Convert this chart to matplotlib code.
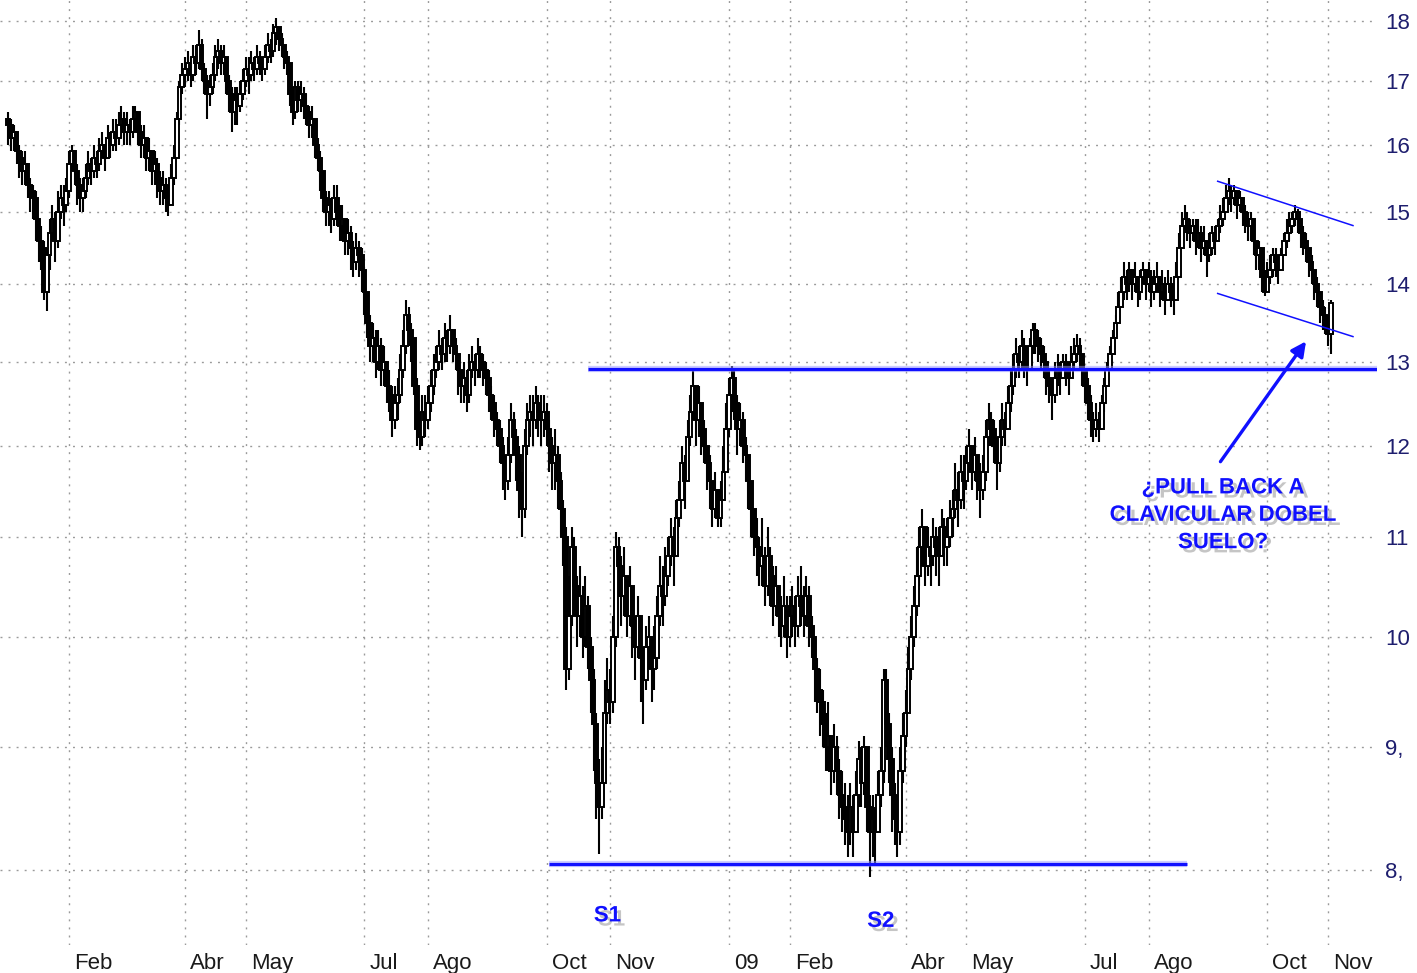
import numpy as np
import pandas as pd
import matplotlib
matplotlib.use("Agg")
import matplotlib.pyplot as plt
import matplotlib.patheffects as pe
from matplotlib.ticker import FixedLocator, FixedFormatter, NullLocator
from matplotlib.transforms import ScaledTranslation

# ---------------- data (daily) ----------------
start_date = "2008-01-02"
first_open = 16.4

close = [
    16.3,16.1,16.2,15.9,15.8,15.6,15.7,15.4,15.3,15.2,14.9,14.6,14.5,13.9,14.4,14.7,14.9,14.6,15.0,15.2,15.1,15.3,
    15.7,15.9,15.6,15.4,15.2,15.3,15.5,15.7,15.6,15.8,15.7,15.9,16.0,15.8,16.1,16.0,16.2,16.1,16.3,16.4,16.2,
    16.3,16.2,16.4,16.5,16.2,16.0,16.1,15.8,15.9,15.6,15.7,15.5,15.3,15.4,15.2,15.1,15.5,15.8,16.4,16.9,17.1,
    17.2,17.3,17.1,17.4,17.3,17.6,17.2,17.0,16.8,16.9,17.1,17.4,17.5,17.3,17.4,17.0,16.8,16.5,16.7,16.6,16.8,17.0,
    17.2,17.1,17.3,17.2,17.4,17.3,17.2,17.4,17.6,17.5,17.8,17.9,17.7,17.6,17.4,17.3,16.8,16.5,16.9,16.7,16.8,16.6,
    16.5,16.3,16.4,16.0,15.8,15.6,15.2,15.0,15.1,14.9,15.2,15.0,14.8,14.9,14.6,14.7,14.5,14.3,14.5,14.4,14.2,
    13.9,13.5,13.2,13.3,13.0,13.2,12.9,13.0,12.7,12.6,12.3,12.5,12.6,12.9,13.2,13.6,13.4,13.3,12.7,12.2,12.1,12.4,12.3,
    12.5,12.7,12.9,13.0,13.2,13.1,13.3,13.2,13.4,13.2,13.1,12.9,12.7,12.8,12.6,12.9,13.0,12.9,13.1,13.0,12.9,
    12.8,12.6,12.5,12.3,12.2,12.0,11.8,11.6,11.9,12.3,12.1,11.9,11.5,11.3,12.0,12.3,12.4,12.3,12.5,12.4,12.3,12.4,
    12.2,12.0,11.8,11.9,11.6,11.3,11.0,9.7,10.2,10.9,10.5,10.2,10.4,10.0,10.3,9.9,9.6,9.2,8.7,8.5,8.7,9.3,9.5,
    9.4,10.0,10.9,10.7,10.4,10.6,10.2,10.5,10.1,9.9,10.2,9.8,9.6,9.9,10.0,9.7,9.8,10.2,10.5,10.4,
    10.6,10.8,11.0,10.8,11.2,11.4,11.8,11.6,12.1,12.4,12.7,12.3,12.5,12.2,12.0,11.8,11.6,11.3,11.5,11.2,11.4,11.7,12.2,
    12.6,12.8,12.5,12.2,12.3,12.0,11.9,11.6,11.3,11.0,10.9,10.7,10.8,10.5,10.8,10.6,10.3,10.5,10.2,10.1,10.3,10.0,
    10.2,10.3,10.1,10.4,10.3,10.2,10.4,10.1,10.0,9.7,9.5,9.4,9.2,9.0,9.1,8.8,9.0,8.8,8.6,8.5,
    8.4,8.3,8.5,8.3,8.6,8.9,8.7,9.0,8.5,8.3,8.4,8.3,8.6,8.8,9.6,9.2,8.9,8.6,8.4,8.3,8.8,9.1,
    9.3,9.7,10.0,10.3,10.6,10.9,11.1,10.7,10.9,10.8,11.0,10.9,10.8,11.1,10.9,11.0,11.2,11.3,11.5,11.4,11.7,11.6,
    11.8,12.0,11.7,11.9,11.6,11.5,11.7,12.1,12.3,12.2,12.0,11.8,12.1,12.3,12.2,12.5,12.7,12.9,13.1,13.0,13.2,
    13.0,12.9,13.2,13.4,13.3,13.2,13.1,13.0,12.8,12.7,12.6,12.8,12.9,12.8,13.0,12.9,12.8,13.0,13.1,13.2,13.1,12.9,
    12.7,12.5,12.3,12.2,12.3,12.2,12.5,12.7,12.9,13.1,13.3,13.5,13.7,13.9,14.1,14.0,14.2,14.0,14.1,13.9,14.1,14.2,14.0,
    14.1,13.9,14.0,14.1,13.9,14.0,13.8,14.0,13.9,13.8,14.1,14.5,14.8,14.9,14.8,14.7,14.8,14.6,14.7,14.5,14.6,
    14.4,14.5,14.7,14.6,14.8,14.9,15.0,15.2,15.3,15.2,15.3,15.1,15.2,15.0,14.9,14.8,14.9,14.6,14.4,14.5,14.1,13.9,
    14.1,14.2,14.4,14.3,14.2,14.4,14.6,14.7,14.8,14.9,15.0,14.9,14.7,14.6,14.5,14.3,14.2,14.0,13.9,13.7,13.6,13.5,
    13.35,13.75,
]

high = [
    16.5,16.4,16.3,16.2,16.0,15.9,15.9,15.7,15.5,15.4,15.3,14.9,14.8,14.6,14.5,14.9,15.1,15.0,15.3,15.4,15.4,15.5,
    15.9,16.0,15.9,15.7,15.5,15.5,15.7,15.9,15.8,16.0,15.9,16.1,16.2,16.0,16.3,16.2,16.4,16.4,16.5,16.6,16.5,
    16.5,16.4,16.6,16.6,16.5,16.3,16.3,16.1,16.1,15.9,15.9,15.8,15.6,15.6,15.5,15.4,15.7,16.0,16.5,17.0,17.3,
    17.4,17.5,17.4,17.6,17.6,17.85,17.7,17.3,17.1,17.1,17.3,17.6,17.7,17.6,17.6,17.4,17.1,16.9,16.9,16.9,17.0,17.2,
    17.4,17.4,17.5,17.4,17.6,17.5,17.4,17.6,17.8,17.7,17.95,18.05,17.9,17.8,17.6,17.5,17.3,16.9,17.0,17.0,17.0,16.9,
    16.8,16.6,16.6,16.4,16.1,15.9,15.6,15.3,15.3,15.2,15.4,15.4,15.1,15.1,14.9,14.9,14.8,14.6,14.7,14.6,14.5,
    14.2,13.9,13.6,13.5,13.4,13.4,13.3,13.2,13.0,12.9,12.7,12.7,12.8,13.1,13.4,13.8,13.7,13.5,13.3,12.8,12.4,12.6,12.6,
    12.7,12.9,13.1,13.2,13.4,13.3,13.5,13.4,13.6,13.4,13.3,13.1,12.9,13.0,12.9,13.1,13.2,13.1,13.3,13.2,13.1,
    13.0,12.9,12.7,12.6,12.4,12.3,12.1,11.9,12.1,12.5,12.4,12.2,12.0,11.7,12.2,12.5,12.6,12.6,12.7,12.6,12.6,12.6,
    12.5,12.3,12.1,12.2,12.0,11.7,11.4,11.1,10.6,11.1,11.0,10.6,10.7,10.5,10.6,10.4,10.0,9.7,9.3,8.9,9.0,9.6,9.8,
    9.7,10.2,11.05,11.0,10.8,10.9,10.6,10.7,10.5,10.2,10.4,10.1,9.9,10.1,10.2,10.0,10.1,10.4,10.8,10.7,
    10.9,11.0,11.2,11.1,11.4,11.6,12.0,11.9,12.3,12.6,12.9,12.7,12.7,12.5,12.3,12.0,11.9,11.6,11.7,11.5,11.6,12.0,12.5,
    12.8,12.95,12.9,12.6,12.5,12.4,12.1,11.9,11.6,11.3,11.2,11.0,11.2,10.9,11.1,10.9,10.7,10.7,10.5,10.4,10.6,10.4,
    10.4,10.5,10.4,10.6,10.7,10.5,10.6,10.5,10.2,10.0,9.8,9.7,9.5,9.3,9.4,9.1,9.2,9.1,8.9,8.8,
    8.7,8.6,8.7,8.6,8.8,9.05,9.0,9.1,9.0,8.6,8.6,8.5,8.8,9.0,9.7,9.7,9.3,9.0,8.7,8.6,9.0,9.3,
    9.5,9.9,10.2,10.5,10.9,11.1,11.3,11.1,11.1,11.0,11.2,11.1,11.1,11.3,11.2,11.2,11.4,11.5,11.8,11.7,11.9,11.9,
    12.0,12.2,12.0,12.1,11.9,11.8,11.9,12.3,12.5,12.4,12.3,12.1,12.3,12.5,12.4,12.7,12.9,13.1,13.3,13.2,13.4,
    13.3,13.2,13.3,13.5,13.5,13.4,13.3,13.2,13.0,12.9,12.8,13.0,13.1,13.0,13.1,13.1,13.0,13.2,13.3,13.35,13.3,13.1,
    12.9,12.8,12.6,12.4,12.5,12.4,12.6,12.8,13.0,13.2,13.4,13.6,13.9,14.1,14.3,14.2,14.3,14.2,14.3,14.1,14.2,14.3,14.2,
    14.3,14.2,14.2,14.3,14.1,14.2,14.1,14.2,14.1,14.0,14.3,14.7,15.0,15.1,15.0,14.9,14.9,14.9,14.9,14.8,14.8,
    14.6,14.7,14.8,14.8,14.9,15.1,15.2,15.4,15.5,15.4,15.4,15.3,15.3,15.2,15.1,15.0,15.0,14.9,14.6,14.6,14.5,14.2,
    14.3,14.4,14.5,14.5,14.4,14.5,14.7,14.9,15.0,15.0,15.1,15.05,14.9,14.8,14.7,14.5,14.4,14.2,14.1,13.9,13.8,13.7,
    13.6,13.8,
]

low = [
    16.0,15.9,15.9,15.7,15.5,15.4,15.4,15.2,15.0,14.9,14.6,14.3,14.2,13.8,13.65,14.2,14.6,14.3,14.5,14.9,14.8,15.0,
    15.2,15.6,15.4,15.1,15.0,15.0,15.2,15.4,15.4,15.5,15.5,15.6,15.8,15.6,15.8,15.8,15.9,15.9,16.0,16.1,16.0,
    16.0,16.0,16.1,16.2,16.0,15.8,15.8,15.6,15.6,15.4,15.4,15.2,15.1,15.1,15.0,14.95,15.1,15.4,15.8,16.3,16.8,
    16.9,17.0,16.9,17.0,17.1,17.2,17.0,16.8,16.4,16.6,16.8,17.0,17.2,17.1,17.1,16.8,16.5,16.2,16.3,16.3,16.5,16.7,
    16.9,16.8,17.0,17.0,17.1,17.1,17.0,17.1,17.3,17.3,17.4,17.6,17.5,17.4,17.2,17.1,16.6,16.3,16.4,16.5,16.5,16.4,
    16.3,16.1,16.1,15.8,15.6,15.3,15.0,14.8,14.8,14.7,14.8,14.8,14.6,14.6,14.4,14.4,14.2,14.1,14.2,14.1,13.9,
    13.6,13.3,13.0,13.0,12.8,12.9,12.7,12.7,12.5,12.4,12.1,12.2,12.3,12.5,12.8,13.1,13.2,13.0,12.6,12.0,11.95,12.0,12.1,
    12.2,12.4,12.6,12.8,12.9,12.9,13.0,13.0,13.1,13.0,12.9,12.6,12.5,12.5,12.4,12.5,12.8,12.7,12.8,12.8,12.7,
    12.6,12.4,12.3,12.1,12.0,11.8,11.5,11.4,11.5,11.8,11.9,11.6,11.2,11.0,11.2,11.9,12.1,12.0,12.2,12.1,12.0,12.1,
    12.0,11.7,11.5,11.5,11.3,11.0,10.7,9.5,9.6,10.1,10.2,9.9,10.0,9.8,9.9,9.7,9.3,8.8,8.4,8.13,8.4,8.7,9.2,
    9.2,9.3,9.9,10.4,10.1,10.2,10.0,10.1,9.8,9.6,9.8,9.4,9.2,9.5,9.7,9.4,9.5,9.7,10.1,10.1,
    10.3,10.5,10.7,10.5,10.8,11.1,11.4,11.3,11.6,12.0,12.3,12.0,12.1,11.9,11.8,11.5,11.3,11.1,11.2,11.1,11.1,11.4,11.7,
    12.1,12.4,12.3,11.9,12.0,11.8,11.6,11.3,11.0,10.8,10.6,10.5,10.5,10.3,10.4,10.3,10.1,10.2,10.0,9.9,10.0,9.8,
    9.9,10.0,9.9,10.0,10.1,10.0,10.1,9.9,9.8,9.4,9.3,9.1,9.0,8.8,8.8,8.6,8.7,8.6,8.4,8.3,
    8.2,8.1,8.2,8.1,8.3,8.5,8.5,8.6,8.3,7.95,8.1,8.05,8.3,8.5,8.7,9.0,8.7,8.3,8.2,8.1,8.2,8.7,
    9.0,9.3,9.6,9.9,10.2,10.5,10.7,10.5,10.6,10.5,10.7,10.6,10.5,10.8,10.7,10.7,10.9,11.0,11.2,11.1,11.3,11.3,
    11.5,11.7,11.5,11.6,11.4,11.2,11.4,11.6,12.0,12.0,11.8,11.5,11.7,12.0,12.0,12.2,12.4,12.6,12.8,12.8,12.9,
    12.8,12.7,12.9,13.1,13.1,13.0,12.9,12.8,12.6,12.5,12.3,12.5,12.7,12.6,12.8,12.7,12.6,12.8,12.9,13.0,12.9,12.7,
    12.5,12.3,12.1,12.05,12.1,12.05,12.2,12.4,12.7,12.9,13.1,13.3,13.5,13.7,13.8,13.8,13.9,13.8,13.9,13.7,13.8,14.0,13.8,
    13.9,13.7,13.8,13.9,13.7,13.8,13.6,13.8,13.7,13.6,13.8,14.1,14.5,14.7,14.6,14.5,14.6,14.4,14.5,14.3,14.4,
    14.1,14.3,14.4,14.4,14.6,14.7,14.8,15.0,15.1,15.0,15.1,14.9,15.0,14.8,14.7,14.6,14.6,14.4,14.2,14.2,13.9,13.85,
    13.9,14.0,14.1,14.1,14.0,14.2,14.4,14.5,14.6,14.7,14.8,14.7,14.5,14.4,14.3,14.1,14.0,13.8,13.7,13.5,13.4,13.35,
    13.2,13.1,
]

tick_months = ["2008-02", "2008-04", "2008-05", "2008-07", "2008-08", "2008-10", "2008-11",
               "2009-01", "2009-02", "2009-04", "2009-05", "2009-07", "2009-08", "2009-10", "2009-11"]
tick_labels = ["Feb", "Abr", "May", "Jul", "Ago", "Oct", "Nov",
               "09", "Feb", "Abr", "May", "Jul", "Ago", "Oct", "Nov"]

y_ticks = [8, 9, 10, 11, 12, 13, 14, 15, 16, 17, 18]
y_tick_labels = ["8,", "9,", "10", "11", "12", "13", "14", "15", "16", "17", "18"]

# annotation levels (price)
neckline_level = 12.91
neckline_start = "2008-10-22"
support_level = 8.05
support_start = "2008-10-02"
support_end = "2009-08-21"
channel_upper = [("2009-09-07", 15.45), ("2009-11-13", 14.81)]
channel_lower = [("2009-09-07", 13.88), ("2009-11-13", 13.32)]
arrow_tail = ("2009-09-08", 11.82)
arrow_head = ("2009-10-21", 13.26)
note_text = "¿PULL BACK A\nCLAVICULAR DOBEL\nSUELO?"
note_pos = ("2009-09-09", 11.23)
s1_pos = ("2008-10-31", 7.66)
s2_pos = ("2009-03-19", 7.62)

# ---------------- build ----------------
assert len(close) == len(high) == len(low)
n = len(close)
dates = pd.bdate_range(start_date, periods=n + 20)
x = np.arange(n)
c = np.array(close)
o = np.concatenate([[first_open], c[:-1]])
h = np.maximum(np.array(high), np.maximum(o, c))
l = np.minimum(np.array(low), np.minimum(o, c))


def xi(d):
    return float(dates.get_indexer([pd.Timestamp(d)], method="nearest")[0])


plt.rcParams["font.family"] = ["Liberation Sans", "DejaVu Sans"]

W, H = 1417, 973
fig = plt.figure(figsize=(W / 100, H / 100), dpi=100)
fig.patch.set_facecolor("white")
ax = fig.add_axes([0, (H - 945) / H, 1377 / W, 945 / H])
ax.set_facecolor("white")
ax.set_yscale("log")
ax.set_ylim(7.45, 18.37)
ax.set_xlim(-3.0, 495.7)
for s in ax.spines.values():
    s.set_visible(False)

# y axis
ax.yaxis.set_major_locator(FixedLocator(y_ticks))
ax.yaxis.set_minor_locator(NullLocator())
ax.yaxis.set_major_formatter(FixedFormatter(y_tick_labels))
ax.yaxis.tick_right()
ax.tick_params(axis="y", length=0, pad=6, labelsize=16, labelcolor="#1e1e6e")

# x axis
tick_pos = []
for tm in tick_months:
    yy, mm = map(int, tm.split("-"))
    tick_pos.append(int(np.argmax((dates.year == yy) & (dates.month == mm))))
ax.xaxis.set_major_locator(FixedLocator(tick_pos))
ax.xaxis.set_minor_locator(NullLocator())
ax.xaxis.set_major_formatter(FixedFormatter(tick_labels))
ax.tick_params(axis="x", length=0, pad=6, labelsize=16, labelcolor="#1a1a1a")
off = ScaledTranslation(5 / 100, 0, fig.dpi_scale_trans)
for lab in ax.get_xticklabels():
    lab.set_horizontalalignment("left")
    lab.set_transform(lab.get_transform() + off)

ax.grid(True, which="major", color="#9a9a9a", linestyle=(0, (1.4, 4.4)), linewidth=1.0)
ax.set_axisbelow(True)

# candles
up = c >= o
ax.vlines(x, l, h, color="black", lw=1.5, zorder=2)
ax.bar(x, c - o, bottom=o, width=1.3, color=np.where(up, "white", "black"),
       edgecolor="black", linewidth=1.4, zorder=3)

blue = "#1010ff"
glow = [pe.Stroke(linewidth=4.5, foreground="#9a9aff", alpha=0.5), pe.Normal()]
ax.plot([xi(neckline_start), ax.get_xlim()[1]], [neckline_level] * 2, color=blue, lw=2.3,
        zorder=5, solid_capstyle="butt", path_effects=glow)
ax.plot([xi(support_start), xi(support_end)], [support_level] * 2, color=blue, lw=2.3,
        zorder=5, solid_capstyle="butt", path_effects=glow)
for seg in (channel_upper, channel_lower):
    ax.plot([xi(seg[0][0]), xi(seg[1][0])], [seg[0][1], seg[1][1]], color=blue, lw=1.1, zorder=5)

shadow = [pe.SimplePatchShadow(offset=(3, -3), shadow_rgbFace="#808080", alpha=0.45), pe.Normal()]
ax.annotate("", xy=(xi(arrow_head[0]), arrow_head[1]), xytext=(xi(arrow_tail[0]), arrow_tail[1]),
            arrowprops=dict(arrowstyle="-|>", color=blue, lw=2.4, mutation_scale=22,
                            shrinkA=0, shrinkB=0),
            zorder=6)
ax.text(xi(note_pos[0]), note_pos[1], note_text, color=blue, fontsize=16, fontweight="bold",
        ha="center", va="center", linespacing=1.4, zorder=6, path_effects=shadow)
ax.text(xi(s1_pos[0]), s1_pos[1], "S1", color=blue, fontsize=16, fontweight="bold",
        ha="center", va="center", zorder=6, path_effects=shadow, clip_on=False)
ax.text(xi(s2_pos[0]), s2_pos[1], "S2", color=blue, fontsize=16, fontweight="bold",
        ha="center", va="center", zorder=6, path_effects=shadow, clip_on=False)

fig.savefig("out.png", dpi=100, facecolor="white")
